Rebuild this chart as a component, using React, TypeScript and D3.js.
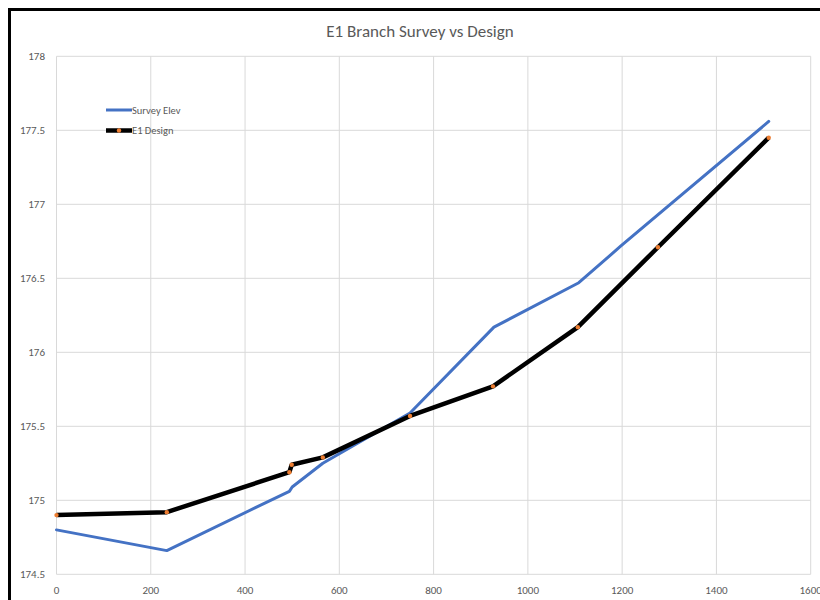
import React from "react";
import * as d3 from "d3";

const title = "E1 Branch Survey vs Design";
const surveyName = "Survey Elev";
const designName = "E1 Design";

const surveyX = [0, 234, 422, 494, 500, 565, 750, 928, 1108, 1198, 1511];
const surveyY = [174.80, 174.66, 174.95, 175.06, 175.09, 175.25, 175.59, 176.17, 176.47, 176.72, 177.56];

const designX = [0, 234, 494, 499, 565, 750, 926, 1106, 1276, 1511];
const designY = [174.90, 174.92, 175.19, 175.24, 175.29, 175.57, 175.77, 176.17, 176.71, 177.45];

const xTicks = [0, 200, 400, 600, 800, 1000, 1200, 1400, 1600];
const yTicks = [174.5, 175, 175.5, 176, 176.5, 177, 177.5, 178];

export default function App() {
  const W = 820, H = 600;
  const x = d3.scaleLinear().domain([0, 1600]).range([56.5, 810.7]);
  const y = d3.scaleLinear().domain([174.5, 178]).range([574.3, 56.3]);
  const line = d3.line<[number, number]>().x(d => x(d[0])).y(d => y(d[1]));
  const sPts: [number, number][] = surveyX.map((v, i) => [v, surveyY[i]]);
  const dPts: [number, number][] = designX.map((v, i) => [v, designY[i]]);
  const font = "Carlito, Calibri, 'Liberation Sans', Arial, sans-serif";
  const grey = "#595959";
  return (
    <svg width={W} height={H} style={{ position: "absolute", left: 0, top: 0, background: "#fff" }}>
      <rect x={0} y={0} width={W} height={H} fill="#fff" />
      <rect x={9.5} y={9.5} width={900} height={700} fill="none" stroke="#000" strokeWidth={3} />
      <text x={420} y={37} textAnchor="middle" fontFamily={font} fontSize={17} fill={grey}>{title}</text>
      {xTicks.map(t => (
        <line key={"gx" + t} x1={x(t)} x2={x(t)} y1={y(178)} y2={y(174.5)} stroke="#d9d9d9" strokeWidth={1} />
      ))}
      {yTicks.map(t => (
        <line key={"gy" + t} x1={x(0)} x2={x(1600)} y1={y(t)} y2={y(t)} stroke="#d9d9d9" strokeWidth={1} />
      ))}
      {yTicks.map(t => (
        <text key={"ly" + t} x={45} y={y(t) + 4} textAnchor="end" fontFamily={font} fontSize={11} fill={grey}>{String(t)}</text>
      ))}
      {xTicks.map(t => (
        <text key={"lx" + t} x={x(t)} y={593.5} textAnchor="middle" fontFamily={font} fontSize={11} fill={grey}>{String(t)}</text>
      ))}
      <path d={line(sPts) || ""} fill="none" stroke="#4472C4" strokeWidth={3} strokeLinejoin="round" strokeLinecap="round" />
      <path d={line(dPts) || ""} fill="none" stroke="#000" strokeWidth={4.5} strokeLinejoin="round" />
      {dPts.map((p, i) => (
        <circle key={"m" + i} cx={x(p[0])} cy={y(p[1])} r={2.2} fill="#ED7D31" />
      ))}
      <g fontFamily={font} fontSize={10.5} fill={grey}>
        <line x1={106} x2={132} y1={110} y2={110} stroke="#4472C4" strokeWidth={3} />
        <text x={132} y={113.5}>{surveyName}</text>
        <line x1={106} x2={132} y1={130.5} y2={130.5} stroke="#000" strokeWidth={4.5} />
        <circle cx={119} cy={130.5} r={2.2} fill="#ED7D31" />
        <text x={132} y={134}>{designName}</text>
      </g>
    </svg>
  );
}
